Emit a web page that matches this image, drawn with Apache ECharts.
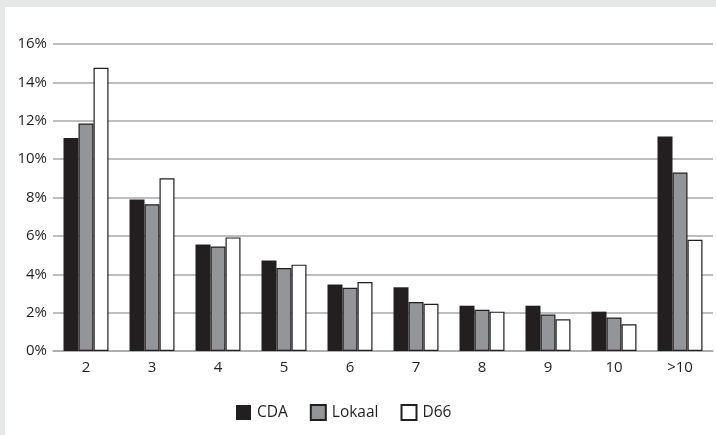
<!DOCTYPE html>
<html>
<head>
<meta charset="utf-8">
<script src="https://cdn.jsdelivr.net/npm/echarts@6/dist/echarts.min.js"></script>
<style>
html,body{margin:0;padding:0;background:#e6e7e9;}
#wrap{position:relative;width:716px;height:435px;background:#e6e7e9;overflow:hidden;}
#chart{position:absolute;left:5px;top:7px;width:711px;height:428px;background:#fff;}
</style>
</head>
<body>
<div id="wrap"><div id="chart"></div></div>
<script>
var categories = ['2','3','4','5','6','7','8','9','10','>10'];
var cda    = [11.1, 7.9, 5.55, 4.72, 3.47, 3.32, 2.36, 2.36, 2.05, 11.18];
var lokaal = [11.86, 7.65, 5.45, 4.32, 3.3, 2.55, 2.15, 1.9, 1.74, 9.3];
var d66    = [14.76, 9.0, 5.92, 4.5, 3.6, 2.46, 2.05, 1.65, 1.39, 5.8];
var yTicks = [0, 2, 4, 6, 8, 10, 12, 14, 16];

var font = '"Open Sans", "Noto Sans", sans-serif';
var txt = '#231f20';
var chart = echarts.init(document.getElementById('chart'), null, {renderer:'canvas'});
function bar(name, data, color){
  return {
    name: name, type: 'bar', data: data,
    barWidth: 15, barGap: '0%', barCategoryGap: '30%',
    itemStyle: {color: color, borderColor: txt, borderWidth: color === txt ? 0 : 1.2},
    emphasis: {disabled: true}
  };
}
chart.setOption({
  animation: false,
  textStyle: {fontFamily: font, color: txt},
  grid: {left: 48, right: 3, top: 37, bottom: 84, containLabel: false},
  legend: {
    data: ['CDA','Lokaal','D66'],
    left: 226, top: 392,
    itemWidth: 15, itemHeight: 15, itemGap: 22,
    icon: 'rect',
    textStyle: {fontFamily: font, fontSize: 15.5, color: txt, padding: [0,0,0,1]}
  },
  xAxis: {
    type: 'category', data: categories,
    axisLine: {lineStyle: {color: '#a7a9ac', width: 1.5}},
    axisTick: {show: false},
    axisLabel: {fontFamily: font, fontSize: 15, color: txt, margin: 9}
  },
  yAxis: {
    type: 'value', min: yTicks[0], max: yTicks[yTicks.length-1], interval: 2,
    axisLine: {show: false}, axisTick: {show: false},
    splitLine: {lineStyle: {color: '#a7a9ac', width: 1.5}},
    axisLabel: {fontFamily: font, fontSize: 15, color: txt, margin: 6, formatter: function(v){return v + '%';}}
  },
  series: [bar('CDA', cda, txt), bar('Lokaal', lokaal, '#939598'), bar('D66', d66, '#ffffff')]
});
</script>
</body>
</html>
